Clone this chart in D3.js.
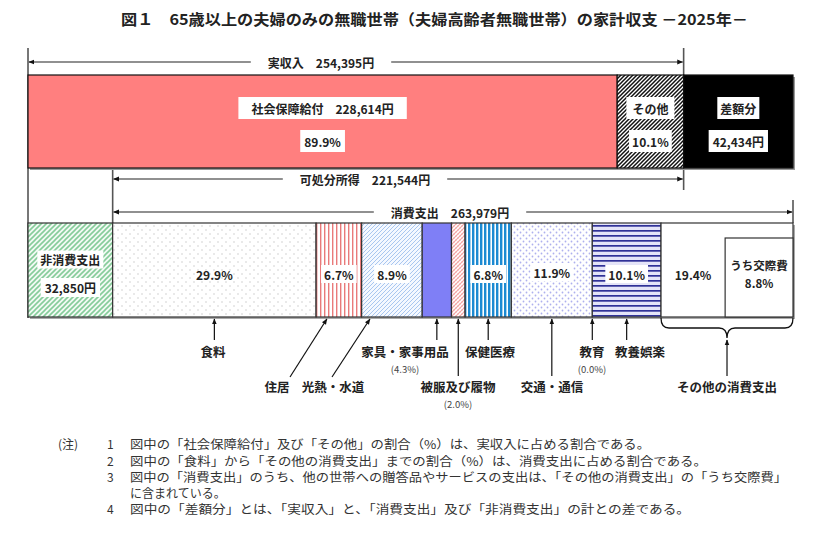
<!DOCTYPE html>
<html><head><meta charset="utf-8">
<script src="https://cdn.jsdelivr.net/npm/d3@7"></script>
<style>
html,body{margin:0;padding:0;background:#fff;}
svg{display:block;font-family:"Noto Sans CJK JP","Noto Sans",sans-serif;}
</style></head>
<body>
<svg id="chart" width="820" height="553"></svg>
<script>
// ---------------- data ----------------
const titleText = "図１　65歳以上の夫婦のみの無職世帯（夫婦高齢者無職世帯）の家計収支 －2025年－";
const incomeCats = ["社会保障給付", "その他", "差額分"];
const incomeVals = [228614, 25781, 42434];
const incomePct = [89.9, 10.1, null];
const totalIncome = 254395;
const disposableIncome = 221544;
const consumptionTotal = 263979;
const nonConsumption = 32850;
const nonConsumptionLabel = "非消費支出";
const consCats = ["食料", "住居", "光熱・水道", "家具・家事用品", "被服及び履物", "保健医療", "交通・通信", "教育", "教養娯楽", "その他の消費支出"];
const consPct = [29.9, 6.7, 8.9, 4.3, 2.0, 6.8, 11.9, 0.0, 10.1, 19.4];
const kousaiLabel = "うち交際費";
const kousaiPct = 8.8;
const notes = [
  ["1", "図中の「社会保障給付」及び「その他」の割合（%）は、実収入に占める割合である。"],
  ["2", "図中の「食料」から「その他の消費支出」までの割合（%）は、消費支出に占める割合である。"],
  ["3", "図中の「消費支出」のうち、他の世帯への贈答品やサービスの支出は、「その他の消費支出」の「うち交際費」"],
  ["",  "に含まれている。"],
  ["4", "図中の「差額分」とは、「実収入」と、「消費支出」及び「非消費支出」の計との差である。"]
];

// ---------------- setup ----------------
const svg = d3.select("#chart");
const fmtYen = v => d3.format(",")(v) + "円";
const fmtPct = v => d3.format(".1f")(v) + "%";
const grandTotal = d3.sum(incomeVals);           // = 実収入 + 差額分 = 消費支出 + 非消費支出
const x = d3.scaleLinear().domain([0, grandTotal]).range([28, 793]);
const INK = "#222";

// ---------------- patterns ----------------
const defs = svg.append("defs");
function pat(id, w, h, bg, draw) {
  const p = defs.append("pattern").attr("id", id).attr("patternUnits", "userSpaceOnUse")
    .attr("width", w).attr("height", h);
  p.append("rect").attr("width", w).attr("height", h).attr("fill", bg);
  draw(p);
}
pat("hatchBW", 4, 4, "#fff", p => p.append("path").attr("d", "M-1,1 l2,-2 M0,4 l4,-4 M3,5 l2,-2").attr("stroke", "#111").attr("stroke-width", 1.5));
pat("hatchGreen", 5, 5, "#f2faf4", p => p.append("path").attr("d", "M-1,1 l2,-2 M0,5 l5,-5 M4,6 l2,-2").attr("stroke", "#86cc9a").attr("stroke-width", 1.6));
pat("dotsGray", 8, 8, "#fff", p => { p.append("circle").attr("cx", 2).attr("cy", 2).attr("r", 0.7).attr("fill", "#c4c4c4"); p.append("circle").attr("cx", 6).attr("cy", 6).attr("r", 0.7).attr("fill", "#c4c4c4"); });
pat("stripesRed", 4, 4, "#fff", p => p.append("rect").attr("x", 0).attr("width", 1.4).attr("height", 4).attr("fill", "#e97a7a"));
pat("hatchBlue", 4, 4, "#f4f8ff", p => p.append("path").attr("d", "M-1,1 l2,-2 M0,4 l4,-4 M3,5 l2,-2").attr("stroke", "#a8c6ef").attr("stroke-width", 1));
pat("hatchPink", 4, 4, "#fff", p => { p.append("path").attr("d", "M-1,1 l2,-2 M0,4 l4,-4 M3,5 l2,-2").attr("stroke", "#f2a0a0").attr("stroke-width", 1.1); p.append("path").attr("d", "M-1,3 l2,2 M0,0 l4,4 M3,-1 l2,2").attr("stroke", "#f7c8c8").attr("stroke-width", 0.8); });
pat("stripesBlue", 4, 4, "#fff", p => p.append("rect").attr("x", 0).attr("width", 2.4).attr("height", 4).attr("fill", "#1c8ad2"));
pat("dotsLav", 6, 6, "#fff", p => { p.append("circle").attr("cx", 1.5).attr("cy", 1.5).attr("r", 0.9).attr("fill", "#aeb0ee"); p.append("circle").attr("cx", 4.5).attr("cy", 4.5).attr("r", 0.9).attr("fill", "#aeb0ee"); });
pat("stripesNavy", 5, 5, "#e4e4f8", p => p.append("rect").attr("y", 0).attr("width", 5).attr("height", 1.7).attr("fill", "#2f3197"));

// arrow markers
["arrowEnd", "arrowStart"].forEach((id, i) => {
  defs.append("marker").attr("id", id).attr("viewBox", "0 0 10 10").attr("refX", i === 0 ? 9 : 1).attr("refY", 5)
    .attr("markerWidth", 6).attr("markerHeight", 6).attr("markerUnits", "userSpaceOnUse").attr("orient", "auto")
    .append("path").attr("d", i === 0 ? "M0,1 L10,5 L0,9 Z" : "M10,1 L0,5 L10,9 Z").attr("fill", "#111");
});

// ---------------- title ----------------
svg.append("text").attr("x", 121).attr("y", 25).attr("font-size", 15).attr("font-weight", "bold")
  .attr("fill", INK).attr("textLength", 627).attr("lengthAdjust", "spacingAndGlyphs").text(titleText);

// helpers
function boxedText(g, cx, cy, txt, opts = {}) {
  const t = g.append("text").attr("x", cx).attr("y", cy).attr("text-anchor", "middle")
    .attr("dominant-baseline", "central").attr("font-size", opts.size || 12).attr("font-weight", "bold")
    .attr("fill", INK).text(txt);
  if (opts.box) {
    const w = t.node().getComputedTextLength();
    const padX = opts.padX == null ? 5 : opts.padX;
    const h = opts.h || 22;
    g.insert("rect", () => t.node()).attr("x", cx - w / 2 - padX).attr("y", cy - h / 2)
      .attr("width", w + 2 * padX).attr("height", h).attr("fill", "#fff");
  }
  return t;
}
function dimArrow(x0, x1, y, cx, label) {
  const g = svg.append("g");
  const t = g.append("text").attr("x", cx).attr("y", y).attr("text-anchor", "middle")
    .attr("dominant-baseline", "central").attr("font-size", 12).attr("font-weight", "bold").attr("fill", INK).text(label);
  const w = t.node().getComputedTextLength();
  g.append("line").attr("x1", x0 + 1).attr("x2", cx - w / 2 - 17).attr("y1", y).attr("y2", y)
    .attr("stroke", "#222").attr("stroke-width", 1.2).attr("marker-start", "url(#arrowStart)");
  g.append("line").attr("x1", cx + w / 2 + 17).attr("x2", x1 - 1).attr("y1", y).attr("y2", y)
    .attr("stroke", "#222").attr("stroke-width", 1.2).attr("marker-end", "url(#arrowEnd)");
}

// ---------------- guide lines ----------------
const vline = (xx, y1, y2) => svg.append("line").attr("x1", xx).attr("x2", xx).attr("y1", y1).attr("y2", y2)
  .attr("stroke", "#555").attr("stroke-width", 1.6);
vline(x(0), 48, 318);
vline(x(totalIncome), 48, 190);
vline(x(nonConsumption), 168, 223);
vline(x(grandTotal), 200, 223);

// ---------------- top bar (income) ----------------
const topY = 75, topH = 93;
const topG = svg.append("g");
topG.append("rect").attr("x", x(0) + 2).attr("y", topY + 2).attr("width", x(grandTotal) - x(0)).attr("height", topH).attr("fill", "#999");
const incStack = d3.cumsum([0].concat(incomeVals));
const incFills = ["#ff7f7f", "url(#hatchBW)", "#000"];
incomeVals.forEach((v, i) => {
  topG.append("rect").attr("x", x(incStack[i])).attr("y", topY).attr("width", x(incStack[i] + v) - x(incStack[i]))
    .attr("height", topH).attr("fill", incFills[i]).attr("stroke", "#111").attr("stroke-width", 1.2);
});
{
  const c0 = (x(0) + x(incomeVals[0])) / 2;
  boxedText(topG, c0, 108, incomeCats[0] + "　" + fmtYen(incomeVals[0]), { box: true, padX: 13 });
  boxedText(topG, c0, 141, fmtPct(incomePct[0]), { box: true, padX: 4 });
  const c1 = (x(incStack[1]) + x(incStack[2])) / 2;
  boxedText(topG, c1, 108, incomeCats[1], { box: true, padX: 6 });
  boxedText(topG, c1, 141, fmtPct(incomePct[1]), { box: true, padX: 3 });
  const c2 = (x(incStack[2]) + x(incStack[3])) / 2;
  boxedText(topG, c2, 108, incomeCats[2], { box: true, padX: 3 });
  boxedText(topG, c2, 141, fmtYen(incomeVals[2]), { box: true, padX: 4 });
}

// ---------------- dimension arrows ----------------
dimArrow(x(0), x(totalIncome), 62, 321, "実収入　" + fmtYen(totalIncome));
dimArrow(x(nonConsumption), x(totalIncome), 179, 365, "可処分所得　" + fmtYen(disposableIncome));
dimArrow(x(nonConsumption), x(grandTotal), 212, 450, "消費支出　" + fmtYen(consumptionTotal));

// ---------------- bottom bar (expenditure) ----------------
const botY = 223, botH = 94;
const botG = svg.append("g");
botG.append("rect").attr("x", x(0) + 2).attr("y", botY + 2).attr("width", x(grandTotal) - x(0)).attr("height", botH).attr("fill", "#aaa");
botG.append("rect").attr("x", x(0)).attr("y", botY).attr("width", x(nonConsumption) - x(0)).attr("height", botH)
  .attr("fill", "url(#hatchGreen)").attr("stroke", "#333").attr("stroke-width", 1.2);
{
  const c = (x(0) + x(nonConsumption)) / 2;
  boxedText(botG, c, 259.5, nonConsumptionLabel, { box: true, padX: 3, h: 18 });
  boxedText(botG, c, 287.5, fmtYen(nonConsumption), { box: true, padX: 4, h: 19 });
}
const consFills = ["url(#dotsGray)", "url(#stripesRed)", "url(#hatchBlue)", "#7f7ff6", "url(#hatchPink)",
  "url(#stripesBlue)", "url(#dotsLav)", "#fff", "url(#stripesNavy)", "#fff"];
const consVals = consPct.map(p => consumptionTotal * p / 100);
const consStart = d3.cumsum([nonConsumption].concat(consVals));
const seg = consVals.map((v, i) => ({ x0: x(consStart[i]), x1: x(consStart[i] + v) }));
seg.forEach((s, i) => {
  botG.append("rect").attr("x", s.x0).attr("y", botY).attr("width", s.x1 - s.x0).attr("height", botH)
    .attr("fill", consFills[i]).attr("stroke", "#333").attr("stroke-width", 1.2);
});
// inner box for 交際費
const kW = x(consumptionTotal * kousaiPct / 100) - x(0) + 8;
const lastSeg = seg[seg.length - 1];
botG.append("rect").attr("x", lastSeg.x1 - kW).attr("y", botY + 15).attr("width", kW).attr("height", botH - 15)
  .attr("fill", "#fff").attr("stroke", "#333").attr("stroke-width", 1.2);
boxedText(botG, lastSeg.x1 - kW / 2, 265, kousaiLabel, { size: 11.5 });
boxedText(botG, lastSeg.x1 - kW / 2, 283, fmtPct(kousaiPct), { size: 11.5 });
const inBarBox = [false, true, true, null, null, true, true, null, true, false];
consPct.forEach((p, i) => {
  if (inBarBox[i] === null) return;
  let cx = (seg[i].x0 + seg[i].x1) / 2;
  let cy = 274;
  if (i === consPct.length - 1) cx = (seg[i].x0 + lastSeg.x1 - kW) / 2;
  if (i === 6) cy = 272;
  boxedText(botG, cx, cy, fmtPct(p), { box: inBarBox[i], padX: 3, h: 18 });
});

// ---------------- category call-outs ----------------
const callout = [
  { lx: 213, row: 1, dx: 0 },
  { lx: 277, row: 2, dx: -12, from: [290, 377] },
  { lx: 333, row: 2, dx: -22, from: [332, 377] },
  { lx: 405, row: 1, dx: 0, sub: true },
  { lx: 458, row: 2, dx: 0, sub: true },
  { lx: 490, row: 1, dx: 0 },
  { lx: 552, row: 2, dx: 0 },
  { lx: 592, row: 1, dx: 0, sub: true },
  { lx: 640, row: 1, dx: 0 },
  { lx: 727, row: 2, brace: true }
];
const rowY = { 1: 351, 2: 386 };
const cg = svg.append("g");
const tipY = 319;
callout.forEach((c, i) => {
  const sc = (seg[i].x0 + seg[i].x1) / 2;
  cg.append("text").attr("x", c.lx).attr("y", rowY[c.row]).attr("text-anchor", "middle").attr("dominant-baseline", "central")
    .attr("font-size", 12.5).attr("font-weight", "bold").attr("fill", INK).text(consCats[i]);
  if (c.sub) {
    cg.append("text").attr("x", c.lx).attr("y", rowY[c.row] + 17.5).attr("text-anchor", "middle").attr("dominant-baseline", "central")
      .attr("font-size", 9.5).attr("fill", "#444").text("(" + fmtPct(consPct[i]) + ")");
  }
  if (c.brace) {
    const a = seg[i].x0, b = seg[i].x1, m = (a + b) / 2, y0 = 318, y1 = 328, y2 = 338;
    cg.append("path").attr("d", `M${a},${y0} Q${a},${y1} ${a + 8},${y1} L${m - 8},${y1} Q${m},${y1} ${m},${y2} Q${m},${y1} ${m + 8},${y1} L${b - 8},${y1} Q${b},${y1} ${b},${y0}`)
      .attr("fill", "none").attr("stroke", "#111").attr("stroke-width", 1.3);
    cg.append("line").attr("x1", m).attr("x2", m).attr("y1", 376).attr("y2", y2 + 2)
      .attr("stroke", "#111").attr("stroke-width", 1.2).attr("marker-end", "url(#arrowEnd)");
    return;
  }
  const tx = sc + c.dx;
  let fx, fy;
  if (c.from) { fx = c.from[0]; fy = c.from[1]; }
  else { fx = tx; fy = c.row === 1 ? 340 : 376; }
  cg.append("line").attr("x1", fx).attr("y1", fy).attr("x2", tx).attr("y2", tipY)
    .attr("stroke", "#111").attr("stroke-width", 1.2).attr("marker-end", "url(#arrowEnd)");
});

// ---------------- notes ----------------
const ng = svg.append("g").attr("font-size", 12).attr("fill", "#333");
const noteY = [443, 460, 476, 492, 508];
const noteEnds = [650, 707, 787, null, 690];
ng.append("text").attr("x", 58).attr("y", noteY[0]).attr("dominant-baseline", "central").text("(注)");
notes.forEach((n, i) => {
  if (n[0]) ng.append("text").attr("x", 107).attr("y", noteY[i]).attr("dominant-baseline", "central").text(n[0]);
  const t = ng.append("text").attr("x", 130).attr("y", noteY[i]).attr("dominant-baseline", "central").text(n[1]);
  if (noteEnds[i]) t.attr("textLength", noteEnds[i] - 130).attr("lengthAdjust", "spacingAndGlyphs");
});
</script>
</body></html>
